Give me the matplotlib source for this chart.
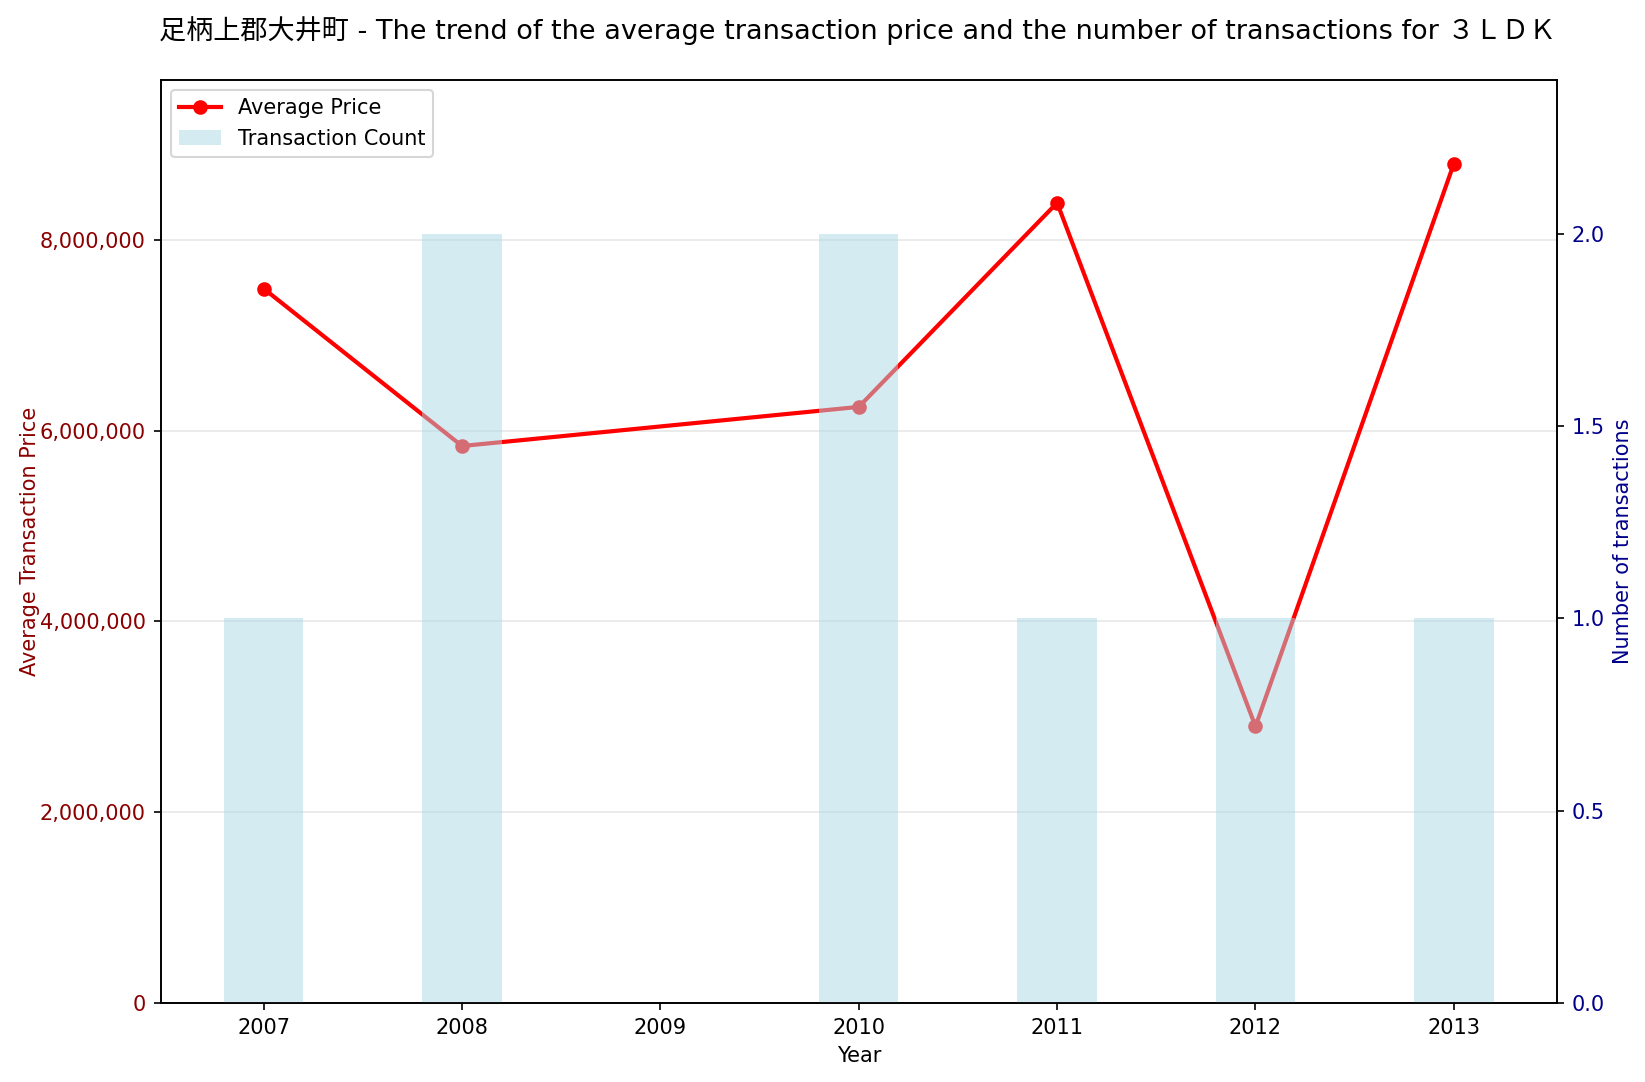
import matplotlib
matplotlib.use("Agg")
import matplotlib.pyplot as plt
from matplotlib.ticker import FuncFormatter

plt.rcParams['font.family'] = ['DejaVu Sans', 'Noto Sans CJK JP']

years = [2007, 2008, 2010, 2011, 2012, 2013]
avg_price = [7490000, 5840000, 6250000, 8390000, 2900000, 8800000]
counts = [1, 2, 2, 1, 1, 1]
xticks = [2007, 2008, 2009, 2010, 2011, 2012, 2013]

title = "足柄上郡大井町 - The trend of the average transaction price and the number of transactions for ３ＬＤＫ"

fig = plt.figure(figsize=(1645/150, 1082/150), dpi=150)
ax1 = fig.add_axes([0.0976, 0.073, 0.8489, 0.8533])
ax2 = ax1.twinx()

line, = ax1.plot(years, avg_price, color='red', marker='o', linewidth=2, markersize=6, label='Average Price')
bars = ax2.bar(years, counts, width=0.4, color='lightblue', alpha=0.5, label='Transaction Count')

ax1.set_ylim(0, max(avg_price) * 1.1)
ax2.set_ylim(0, max(counts) * 1.2)
ax1.set_xticks(xticks)
ax1.set_xticklabels([str(x) for x in xticks])

ax1.yaxis.set_major_formatter(FuncFormatter(lambda v, p: f"{int(v):,}"))
ax1.tick_params(axis='y', labelcolor='darkred')
ax2.tick_params(axis='y', labelcolor='darkblue')
ax1.set_ylabel('Average Transaction Price', color='darkred', labelpad=0)
ax2.set_ylabel('Number of transactions', color='darkblue')
ax1.set_xlabel('Year')
ax1.grid(axis='y', alpha=0.3)

ax1.legend([line, bars], ['Average Price', 'Transaction Count'], loc='upper left')
fig.suptitle(title, fontsize=13, x=0.521, y=0.985)

fig.savefig('out.png', dpi=150)
